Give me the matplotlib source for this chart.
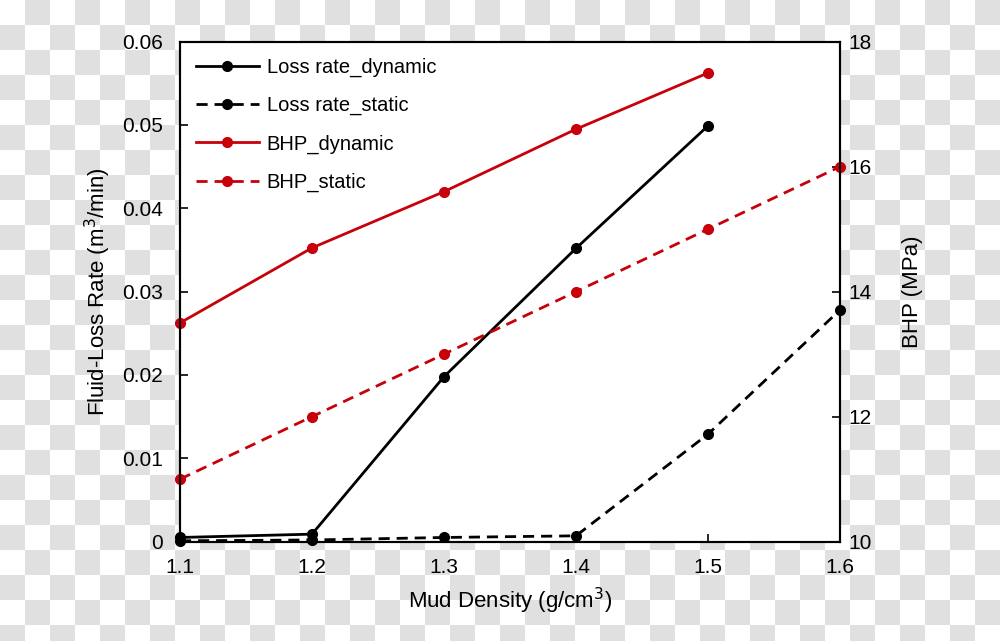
import matplotlib
matplotlib.use('Agg')
import matplotlib.pyplot as plt
import numpy as np

plt.rcParams['font.family'] = ['Liberation Sans', 'DejaVu Sans']

density = [1.1, 1.2, 1.3, 1.4, 1.5, 1.6]

loss_dynamic = [0.0005, 0.0009, 0.0198, 0.0352, 0.0499]
loss_static = [0.0001, 0.0002, 0.0005, 0.0007, 0.0129, 0.0278]
bhp_dynamic = [13.5, 14.7, 15.6, 16.6, 17.5]
bhp_static = [11.0, 12.0, 13.0, 14.0, 15.0, 16.0]

red = '#c8000a'
fs = 15

fig = plt.figure(figsize=(10, 6.41), dpi=100)

# checkered background (transparent-png look)
bg = fig.add_axes([0, 0, 1, 1], zorder=-10)
iy, ix = np.indices((26, 40))
bg.imshow((ix + iy) % 2, cmap=matplotlib.colors.ListedColormap(['white', '#e0e0e0']),
          extent=(0, 1000, 650, 0), interpolation='nearest', aspect='auto')
bg.set_xlim(0, 1000)
bg.set_ylim(641, 0)
bg.axis('off')

ax1 = fig.add_axes([0.18, 0.155, 0.66, 0.78])
ax1.set_facecolor('white')
ax2 = ax1.twinx()

l1, = ax1.plot(density[:5], loss_dynamic, color='black', lw=2, marker='o', ms=7, clip_on=False, zorder=3)
l2, = ax1.plot(density, loss_static, color='black', lw=2, ls=(0, (4, 2.5)), marker='o', ms=7, clip_on=False, zorder=3)
l3, = ax2.plot(density[:5], bhp_dynamic, color=red, lw=2, marker='o', ms=7, clip_on=False)
l4, = ax2.plot(density, bhp_static, color=red, lw=2, ls=(0, (4, 2.5)), marker='o', ms=7, clip_on=False)

ax1.set_xlim(1.1, 1.6)
ax1.set_ylim(0, 0.06)
ax2.set_ylim(10, 18)
ax1.set_xticks([1.1, 1.2, 1.3, 1.4, 1.5, 1.6])
ax1.set_yticks([0, 0.01, 0.02, 0.03, 0.04, 0.05, 0.06])
ax1.set_yticklabels(['0', '0.01', '0.02', '0.03', '0.04', '0.05', '0.06'])
ax2.set_yticks([10, 12, 14, 16, 18])

for ax in (ax1, ax2):
    ax.tick_params(direction='in', length=6, width=1.2, labelsize=fs)
    for s in ax.spines.values():
        s.set_linewidth(1.5)
ax1.tick_params(axis='x', pad=12)
ax1.tick_params(axis='y', pad=12)
ax2.tick_params(axis='y', pad=6)

ax1.set_xlabel('Mud Density (g/cm$^3$)', fontsize=fs + 1, labelpad=6)
ax1.set_ylabel('Fluid-Loss Rate (m$^3$/min)', fontsize=fs + 1, labelpad=7)
ax2.set_ylabel('BHP (MPa)', fontsize=fs + 1, labelpad=22)

ax2.legend([l1, l2, l3, l4], ['Loss rate_dynamic', 'Loss rate_static', 'BHP_dynamic', 'BHP_static'],
           loc='upper left', frameon=False, fontsize=14.5, handlelength=3.1, labelspacing=0.95,
           borderaxespad=0.6, borderpad=0.2, handletextpad=0.4)

fig.savefig('out.png', dpi=100)
